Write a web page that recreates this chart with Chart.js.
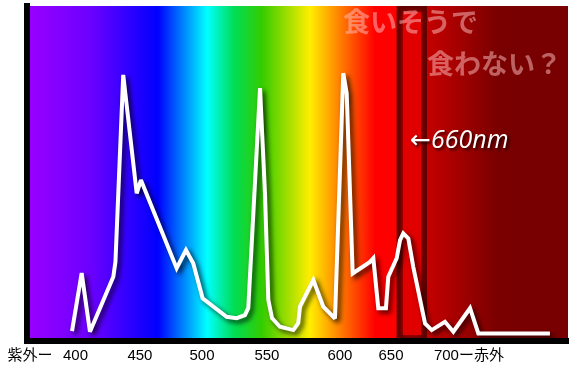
<!DOCTYPE html>
<html><head><meta charset="utf-8">
<script src="https://cdn.jsdelivr.net/npm/chart.js@4/dist/chart.umd.min.js"></script>
<style>html,body{margin:0;padding:0;background:#fff}#wrap{width:571px;height:370px;position:relative}</style>
</head><body><div id="wrap"><canvas id="c"></canvas></div>
<script>
// Wavelength (nm, as read along the picture's axis) and relative intensity (%)
const wavelengths = [399.0,406.8,413.5,432.4,434.1,440.4,451.3,454.7,483.6,491.1,497.0,504.6,524.0,532.1,538.8,541.5,551.0,555.0,557.7,560.7,567.1,577.9,581.9,583.3,594.1,602.1,611.6,618.3,621.1,625.9,639.9,642.6,646.6,652.8,654.7,661.5,664.2,666.8,670.9,674.9,684.4,689.8,700.5,707.3,720.8,727.5,785.4];
const intensity   = [1.8,19.3,1.6,18.2,22.7,79.2,43.4,47.4,20.8,26.3,22.3,11.7,6.1,5.7,6.6,8.8,75.2,43.5,11.2,5.7,3.1,2.1,4.2,9.2,17.2,9.2,5.6,79.7,73.6,19.2,22.7,23.8,8.7,8.7,18.2,23.8,29.3,31.3,29.8,21.2,4.1,2.1,4.6,1.6,8.7,1.1,1.1];
// Axis tick positions (where each label sits on the picture's axis) and their labels
const tickValues = [365, 401.8, 453.9, 504.1, 556.6, 615.6, 656.9, 719.9];
const tickLabels = ['紫外ー','400','450','500','550','600','650','700ー赤外'];
// Highlighted band around 660nm
const highlightBand = [661.7, 686.0];
const titleLines = ['食いそうで','食わない？'];
const bandNote = '←660nm';

const bgPlugin = {
  id: 'spectrumBg',
  beforeDraw(chart) {
    const {ctx, chartArea: a, scales: {x}} = chart;
    ctx.save();
    const g = ctx.createLinearGradient(a.left, 0, a.right, 0);
    const stops = [[0,'#9a00ff'],[0.12,'#6a00ff'],[0.242,'#0000ff'],[0.333,'#00ffff'],[0.383,'#00dd55'],[0.434,'#33cc00'],[0.523,'#ffee00'],[0.562,'#ffa000'],[0.61,'#ff4000'],[0.643,'#ff0000'],[0.682,'#ff0000'],[0.683,'#c80000'],[0.741,'#c40000'],[0.869,'#7a0000'],[1,'#780000']];
    stops.forEach(s => g.addColorStop(s[0], s[1]));
    ctx.fillStyle = g;
    ctx.fillRect(a.left, a.top, a.right - a.left, a.bottom - a.top);
    // band
    const x0 = x.getPixelForValue(highlightBand[0]);
    const x1 = x.getPixelForValue(highlightBand[1]);
    ctx.fillStyle = '#600000';
    ctx.fillRect(x0, a.top, x1 - x0, a.bottom - a.top);
    ctx.shadowColor = '#e00000';
    ctx.shadowBlur = 5;
    ctx.fillStyle = '#e00000';
    ctx.fillRect(x0 + 6, a.top + 6, x1 - x0 - 12, a.bottom - a.top - 12);
    ctx.restore();
  }
};

const shadowPlugin = {
  id: 'lineShadow',
  beforeDatasetDraw(chart) {
    const ctx = chart.ctx;
    ctx.save();
    ctx.miterLimit = 2.5;
    ctx.shadowColor = 'rgba(0,0,0,0.75)';
    ctx.shadowBlur = 5;
    ctx.shadowOffsetX = 3;
    ctx.shadowOffsetY = 3;
  },
  afterDatasetDraw(chart) { chart.ctx.restore(); }
};

const textPlugin = {
  id: 'notes',
  afterDatasetsDraw(chart) {
    const {ctx, chartArea: a} = chart;
    ctx.save();
    ctx.font = "bold 27px 'Noto Sans CJK JP'";
    ctx.fillStyle = 'rgba(255,195,195,0.5)';
    ctx.textBaseline = 'middle';
    ctx.textAlign = 'left';
    ctx.fillText(titleLines[0], a.left + 316, a.top + 16);
    ctx.fillText(titleLines[1], a.left + 400, a.top + 58);
    ctx.font = "italic 25px 'Open Sans', 'DejaVu Sans'";
    ctx.fillStyle = '#ffffff';
    ctx.textBaseline = 'alphabetic';
    ctx.shadowColor = 'rgba(0,0,0,0.8)';
    ctx.shadowBlur = 3;
    ctx.shadowOffsetX = 2;
    ctx.shadowOffsetY = 2;
    ctx.fillText(bandNote, a.left + 383, a.top + 142);
    ctx.restore();
  }
};

new Chart(document.getElementById('c'), {
  type: 'line',
  data: {
    datasets: [{
      data: wavelengths.map((w, i) => ({x: w, y: intensity[i]})),
      borderColor: '#ffffff',
      borderWidth: 4,
      pointRadius: 0,
      tension: 0,
      fill: false
    }]
  },
  options: {
    responsive: true,
    maintainAspectRatio: false,
    animation: false,
    events: [],
    layout: {padding: {top: 6, right: 3, left: 0, bottom: 0}},
    plugins: {legend: {display: false}, tooltip: {enabled: false}},
    scales: {
      x: {
        type: 'linear',
        min: 362.6, max: 800,
        afterBuildTicks(scale) { scale.ticks = tickValues.map(v => ({value: v})); },
        afterFit(scale) { scale.height = 29; },
        grid: {display: true, color: 'rgba(0,0,0,0)', drawTicks: false},
        border: {display: true, color: '#000', width: 6},
        ticks: {
          autoSkip: false, maxRotation: 0, minRotation: 0, padding: 6,
          color: '#000',
          font: {family: "'Liberation Sans', 'Noto Sans CJK JP', sans-serif", size: 15},
          callback: (v, i) => tickLabels[i]
        }
      },
      y: {
        min: -1.2, max: 100,
        afterFit(scale) { scale.width = 27; },
        grid: {display: true, color: 'rgba(0,0,0,0)', drawTicks: false},
        border: {display: true, color: '#000', width: 6},
        ticks: {display: false}
      }
    }
  },
  plugins: [bgPlugin, shadowPlugin, textPlugin]
});
</script>
</body></html>
